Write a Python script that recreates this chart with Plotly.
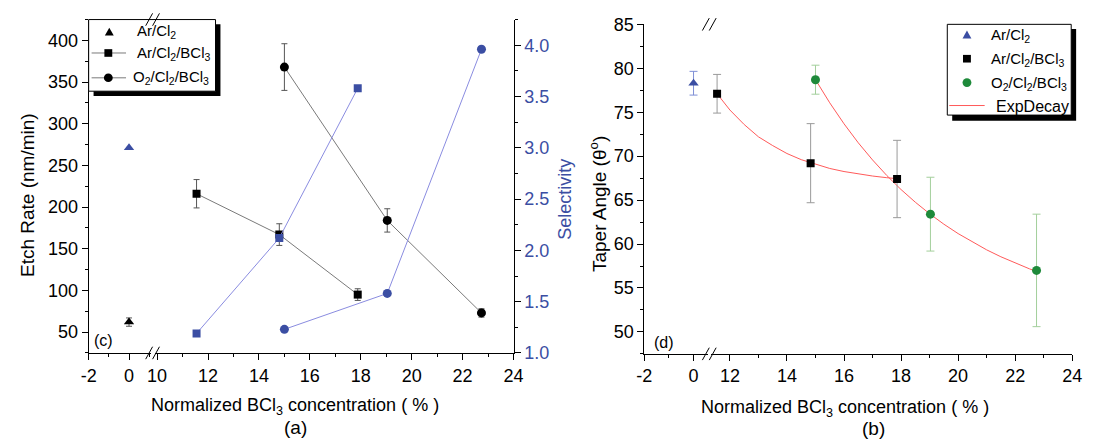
import plotly.graph_objects as go

W, H = 1094, 447
FONT = "Liberation Sans, Arial, Helvetica, sans-serif"

# ---------------- data: panel (a) ----------------
arcl_x = [0]
arcl_etch = [62]
arcl_etch_err = [5]
arcl_sel = [3.0]

arbcl_x = [11.55, 14.8, 17.88]
arbcl_etch = [216, 167, 95]
arbcl_etch_err = [17, 13, 7]
arbcl_sel = [1.19, 2.12, 3.58]

o2_x = [15.0, 19.04, 22.74]
o2_etch = [368, 184, 73]
o2_etch_err = [28, 14, 5]
o2_sel = [1.23, 1.58, 3.96]

# ---------------- data: panel (b) ----------------
tap_arcl_x = [0]
tap_arcl = [78.3]
tap_arcl_err = [1.35]

tap_arbcl_x = [11.55, 14.83, 17.86]
tap_arbcl = [77.1, 69.2, 67.4]
tap_arbcl_err = [2.2, 4.5, 4.4]

tap_o2_x = [15.0, 19.03, 22.75]
tap_o2 = [78.7, 63.4, 57.0]
tap_o2_err = [1.65, 4.2, 6.4]

# ExpDecay fit curves
fit1_x = [11.55, 12.0, 12.5, 13.0, 13.5, 14.0, 14.5, 15.0, 15.5, 16.0, 16.5, 17.0, 17.5, 17.86]
fit1_y = [77.1, 75.25, 73.6, 72.2, 71.2, 70.3, 69.6, 69.06, 68.6, 68.25, 67.97, 67.74, 67.55, 67.44]
fit2_x = [15.0, 15.5, 16.0, 16.5, 17.0, 17.5, 18.0, 18.5, 19.0, 19.5, 20.0, 20.5, 21.0, 21.5, 22.0, 22.5, 22.75]
fit2_y = [78.7, 76.07, 73.68, 71.52, 69.57, 67.8, 66.2, 64.76, 63.45, 62.26, 61.19, 60.22, 59.34, 58.55, 57.83, 57.18, 56.88]

# tick labels
xa_left_ticks = [-2, 0]
xa_left_labels = ["-2", "0"]
xa_right_ticks = [10, 12, 14, 16, 18, 20, 22, 24]
xb_left_ticks = [-2, 0]
xb_left_labels = ["-2", "0"]
xb_right_ticks = [12, 14, 16, 18, 20, 22, 24]
ya_ticks = [50, 100, 150, 200, 250, 300, 350, 400]
ya2_ticks = [1.0, 1.5, 2.0, 2.5, 3.0, 3.5, 4.0]
yb_ticks = [50, 55, 60, 65, 70, 75, 80, 85]

legend_a_names = ["Ar/Cl<sub>2</sub>", "Ar/Cl<sub>2</sub>/BCl<sub>3</sub>", "O<sub>2</sub>/Cl<sub>2</sub>/BCl<sub>3</sub>"]
legend_b_names = ["Ar/Cl<sub>2</sub>", "Ar/Cl<sub>2</sub>/BCl<sub>3</sub>", "O<sub>2</sub>/Cl<sub>2</sub>/BCl<sub>3</sub>", "ExpDecay"]

BLUE = "#3b4ea3"
BLUE_LINE = "#8a8ce0"
GRAY_LINE = "#7a7a7a"
GREEN = "#1e8a3a"
GREEN_ERR = "#a3cf9b"
GRAY_ERR = "#9a9a9a"
BLUE_ERR = "#7f8fd6"
RED = "#ff5a5a"
ERR_A = "#555555"

SQ, CI, TRI = 8, 9, 9


def px_x(p):
    return p / W


def px_y(p):
    return 1 - p / H


fig = go.Figure()

# ---- panel (a) traces ----
fig.add_trace(go.Scatter(x=arcl_x, y=arcl_etch, mode="markers", name=legend_a_names[0], showlegend=False,
                         marker=dict(symbol="triangle-up", size=TRI, color="black"),
                         error_y=dict(type="data", array=arcl_etch_err, color=ERR_A, thickness=1, width=3),
                         xaxis="x", yaxis="y"))
fig.add_trace(go.Scatter(x=arbcl_x, y=arbcl_etch, mode="lines+markers", name=legend_a_names[1], showlegend=False,
                         line=dict(color=GRAY_LINE, width=1),
                         marker=dict(symbol="square", size=SQ, color="black"),
                         error_y=dict(type="data", array=arbcl_etch_err, color=ERR_A, thickness=1, width=3),
                         xaxis="x2", yaxis="y"))
fig.add_trace(go.Scatter(x=o2_x, y=o2_etch, mode="lines+markers", name=legend_a_names[2], showlegend=False,
                         line=dict(color=GRAY_LINE, width=1),
                         marker=dict(symbol="circle", size=CI, color="black"),
                         error_y=dict(type="data", array=o2_etch_err, color=ERR_A, thickness=1, width=3),
                         xaxis="x2", yaxis="y"))
fig.add_trace(go.Scatter(x=arcl_x, y=arcl_sel, mode="markers", showlegend=False,
                         marker=dict(symbol="triangle-up", size=TRI, color=BLUE),
                         xaxis="x", yaxis="y2"))
fig.add_trace(go.Scatter(x=arbcl_x, y=arbcl_sel, mode="lines+markers", showlegend=False,
                         line=dict(color=BLUE_LINE, width=1),
                         marker=dict(symbol="square", size=SQ, color=BLUE),
                         xaxis="x2", yaxis="y2"))
fig.add_trace(go.Scatter(x=o2_x, y=o2_sel, mode="lines+markers", showlegend=False,
                         line=dict(color=BLUE_LINE, width=1),
                         marker=dict(symbol="circle", size=CI, color=BLUE),
                         xaxis="x2", yaxis="y2"))

# ---- panel (b) traces ----
fig.add_trace(go.Scatter(x=tap_arcl_x, y=tap_arcl, mode="markers", name=legend_b_names[0], showlegend=False,
                         marker=dict(symbol="triangle-up", size=TRI, color=BLUE),
                         error_y=dict(type="data", array=tap_arcl_err, color=BLUE_ERR, thickness=1, width=4),
                         xaxis="x5", yaxis="y3"))
fig.add_trace(go.Scatter(x=fit1_x, y=fit1_y, mode="lines", name=legend_b_names[3], showlegend=False,
                         line=dict(color=RED, width=1), xaxis="x6", yaxis="y3"))
fig.add_trace(go.Scatter(x=fit2_x, y=fit2_y, mode="lines", name=legend_b_names[3], showlegend=False,
                         line=dict(color=RED, width=1), xaxis="x6", yaxis="y3"))
fig.add_trace(go.Scatter(x=tap_arbcl_x, y=tap_arbcl, mode="markers", name=legend_b_names[1], showlegend=False,
                         marker=dict(symbol="square", size=SQ, color="black"),
                         error_y=dict(type="data", array=tap_arbcl_err, color=GRAY_ERR, thickness=1, width=4),
                         xaxis="x6", yaxis="y3"))
fig.add_trace(go.Scatter(x=tap_o2_x, y=tap_o2, mode="markers", name=legend_b_names[2], showlegend=False,
                         marker=dict(symbol="circle", size=CI, color=GREEN),
                         error_y=dict(type="data", array=tap_o2_err, color=GREEN_ERR, thickness=1, width=4),
                         xaxis="x6", yaxis="y3"))

# ---------------- axes ----------------
TICK_SIZE = 18
tickfont = dict(family=FONT, size=TICK_SIZE, color="black")
common = dict(showline=True, linecolor="black", linewidth=1, showgrid=False, zeroline=False,
              ticks="outside", ticklen=6, tickwidth=1, tickcolor="black", tickfont=tickfont)
common_in = {**common, "ticks": "inside"}

ya_dom = [px_y(359), px_y(10)]
yb_dom = [px_y(360), px_y(15)]

xa1_dom = [px_x(82), px_x(145)]
xa2_dom = [px_x(149), px_x(514)]
xb1_dom = [px_x(647), px_x(712)]
xb2_dom = [px_x(715), px_x(1082)]

xa1_rng = [-2, 1.07]
xa2_rng = [9.9, 24]
xb1_rng = [-2, 0.6]
xb2_rng = [11.345, 24]


def mn(d, inside=False):
    return dict(dtick=d, ticklen=3, tickcolor="black", ticks="inside" if inside else "outside", showgrid=False)


layout = dict(
    width=W, height=H, margin=dict(l=0, r=0, t=0, b=0),
    paper_bgcolor="white", plot_bgcolor="white", showlegend=False,
    font=dict(family=FONT, size=16, color="black"),
    xaxis=dict(domain=xa1_dom, range=xa1_rng, anchor="y", tickvals=xa_left_ticks, ticktext=xa_left_labels,
               minor=mn(1), **common),
    xaxis2=dict(domain=xa2_dom, range=xa2_rng, anchor="y", tickvals=xa_right_ticks, minor=mn(1), **common),
    xaxis3=dict(domain=xa1_dom, range=xa1_rng, anchor="y", overlaying="x", side="top",
                tickvals=xa_left_ticks, minor=mn(1, True), showticklabels=False, **common_in),
    xaxis4=dict(domain=xa2_dom, range=xa2_rng, anchor="y", overlaying="x2", side="top",
                tickvals=xa_right_ticks, minor=mn(1, True), showticklabels=False, **common_in),
    yaxis=dict(domain=ya_dom, range=[25, 425], anchor="x", tickvals=ya_ticks, minor=mn(25), **common),
    yaxis2=dict(domain=ya_dom, range=[1.0, 4.25], anchor="x2", overlaying="y", side="right",
                tickvals=ya2_ticks, tickformat=".1f", minor=mn(0.25),
                **{**common, "tickfont": dict(family=FONT, size=TICK_SIZE, color=BLUE)}),
    xaxis5=dict(domain=xb1_dom, range=xb1_rng, anchor="y3", tickvals=xb_left_ticks, ticktext=xb_left_labels,
                minor=mn(1), **common),
    xaxis6=dict(domain=xb2_dom, range=xb2_rng, anchor="y3", tickvals=xb_right_ticks, minor=mn(1), **common),
    xaxis7=dict(domain=xb1_dom, range=xb1_rng, anchor="y3", overlaying="x5", side="top",
                tickvals=xb_left_ticks, minor=mn(1, True), showticklabels=False, **common_in),
    xaxis8=dict(domain=xb2_dom, range=xb2_rng, anchor="y3", overlaying="x6", side="top",
                tickvals=xb_right_ticks, minor=mn(1, True), showticklabels=False, **common_in),
    yaxis3=dict(domain=yb_dom, range=[47.5, 85], anchor="x5", tickvals=yb_ticks, minor=mn(2.5), **common),
    yaxis4=dict(domain=yb_dom, range=[47.5, 85], anchor="x6", overlaying="y3", side="right",
                tickvals=yb_ticks, showticklabels=False, minor=mn(2.5, True), **common_in),
)
fig.update_layout(**layout)

# ---------------- decorations ----------------
shapes = []
ann = []


def rect_px(x0, y0, x1, y1, fill, line_w=0, line_c="black"):
    return dict(type="rect", xref="paper", yref="paper", x0=px_x(x0), x1=px_x(x1), y0=px_y(y1), y1=px_y(y0),
                fillcolor=fill, line=dict(width=line_w, color=line_c), layer="above")


def line_px(x0, y0, x1, y1, color, w=1):
    return dict(type="line", xref="paper", yref="paper", x0=px_x(x0), y0=px_y(y0), x1=px_x(x1), y1=px_y(y1),
                line=dict(color=color, width=w), layer="above")


def square_px(cx, cy, s, color):
    return rect_px(cx - s / 2, cy - s / 2, cx + s / 2, cy + s / 2, color)


def circle_px(cx, cy, d, color):
    return dict(type="circle", xref="paper", yref="paper", x0=px_x(cx - d / 2), x1=px_x(cx + d / 2),
                y0=px_y(cy + d / 2), y1=px_y(cy - d / 2), fillcolor=color, line=dict(width=0), layer="above")


def tri_px(cx, cy, s, color):
    pts = [(cx - s / 2, cy + s * 0.42), (cx + s / 2, cy + s * 0.42), (cx, cy - s * 0.5)]
    path = "M " + " L ".join(f"{px_x(x):.6f},{px_y(y):.6f}" for x, y in pts) + " Z"
    return dict(type="path", xref="paper", yref="paper", path=path, fillcolor=color,
                line=dict(width=0), layer="above")


def text_px(t, x, y, size=15, color="black", xanchor="left", angle=0):
    return dict(text=t, x=px_x(x), y=px_y(y), xref="paper", yref="paper", showarrow=False,
                xanchor=xanchor, yanchor="middle", textangle=angle,
                font=dict(size=size, family=FONT, color=color))


# legend (a)
shapes.append(rect_px(87, 15, 216, 90, "black"))
shapes.append(rect_px(82, 10, 211, 85, "white", 1))
shapes.append(tri_px(103, 23, 9, "black"))
shapes.append(line_px(85, 45, 120, 45, GRAY_LINE))
shapes.append(square_px(102, 45, 8, "black"))
shapes.append(line_px(85, 71, 120, 71, GRAY_LINE))
shapes.append(circle_px(102, 71, 9, "black"))
LEG = 15
ann.append(text_px(legend_a_names[0], 129, 23, LEG))
ann.append(text_px(legend_a_names[1], 129, 46, LEG))
ann.append(text_px(legend_a_names[2], 125, 71, LEG))

# legend (b)
shapes.append(rect_px(960, 20, 1086, 116, "black"))
shapes.append(rect_px(955, 15, 1081, 110, "white", 1))
shapes.append(tri_px(975, 26, 9, BLUE))
shapes.append(square_px(975, 51, 8, "black"))
shapes.append(circle_px(975, 76, 9, GREEN))
shapes.append(line_px(957, 100, 993, 100, RED))
ann.append(text_px(legend_b_names[0], 997, 27, LEG))
ann.append(text_px(legend_b_names[1], 997, 52, LEG))
ann.append(text_px(legend_b_names[2], 997, 77, LEG))
ann.append(text_px(legend_b_names[3], 1002, 101, 16))


def slashes(xc, yc):
    out = []
    for dx in (-3.5, 3.5):
        out.append(line_px(xc + dx - 3.5, yc + 6.5, xc + dx + 3.5, yc - 6.5, "black"))
    return out


shapes += slashes(147, 359) + slashes(147, 10)
shapes += slashes(713, 360) + slashes(713, 15)
fig.update_layout(shapes=shapes)

ann.append(text_px("Etch Rate (nm/min)", 20, 194, 19, xanchor="center", angle=-90))
ann.append(text_px("Selectivity", 566, 198, 18, BLUE, xanchor="center", angle=-90))
ann.append(text_px("Normalized BCl<sub>3</sub> concentration ( % )", 292, 415, 18, xanchor="center"))
ann.append(text_px("(a)", 292, 437, 19, xanchor="center"))
ann.append(text_px("(c)", 97, 346, 16, xanchor="center"))
ann.append(text_px("Taper Angle (θ<sup>o</sup>)", 600, 203, 19, xanchor="center", angle=-90))
ann.append(text_px("Normalized BCl<sub>3</sub> concentration ( % )", 851, 417, 18, xanchor="center"))
ann.append(text_px("(b)", 880, 438, 19, xanchor="center"))
ann.append(text_px("(d)", 667, 348, 16, xanchor="center"))
fig.update_layout(annotations=ann)

fig.write_html("out.html")
